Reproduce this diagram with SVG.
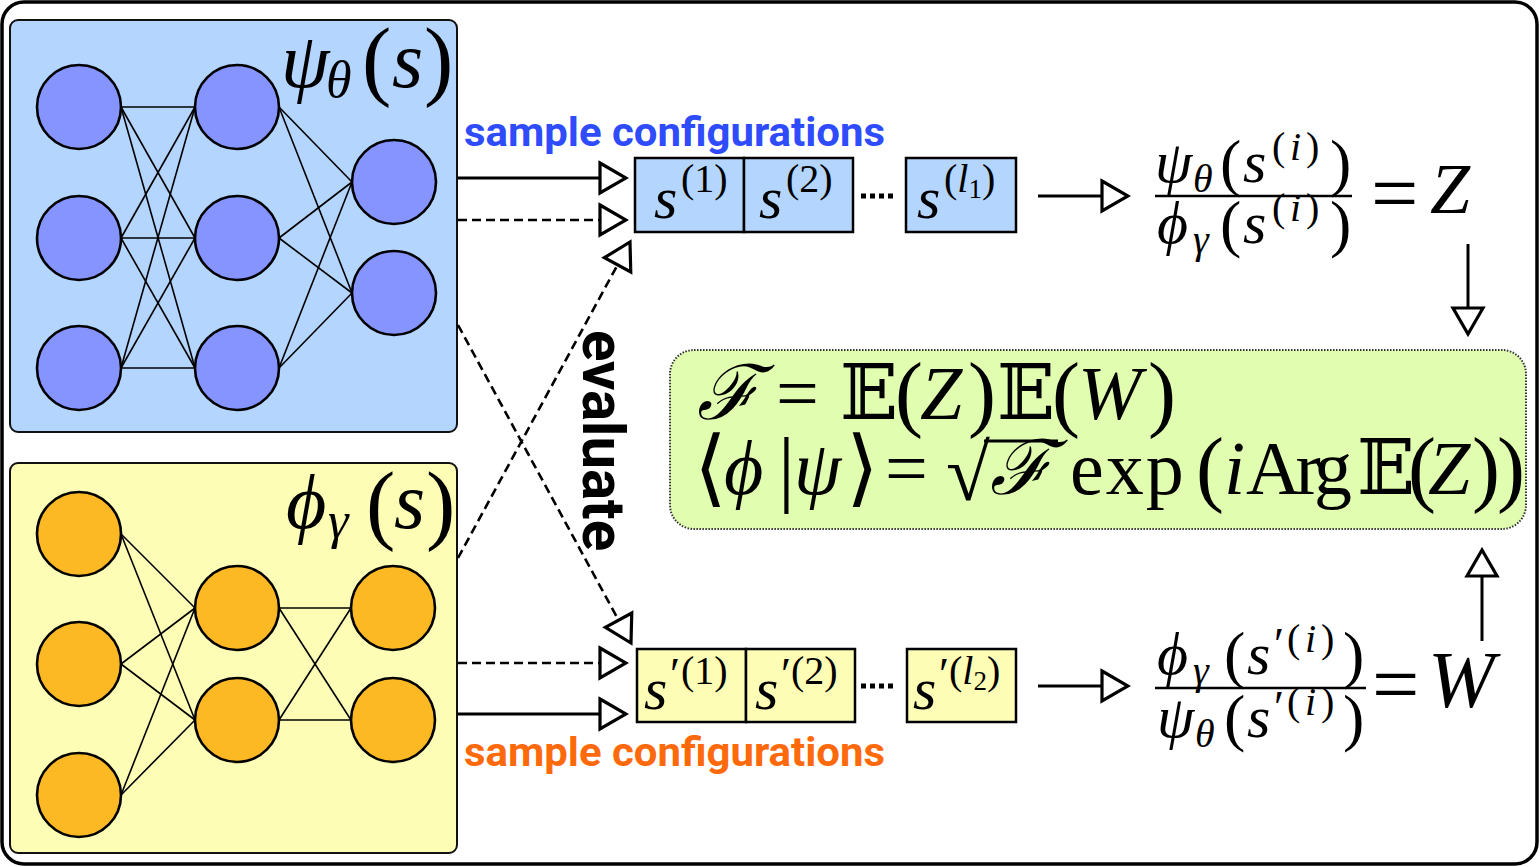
<svg xmlns="http://www.w3.org/2000/svg" width="1540" height="867" viewBox="0 0 1540 867">
<style>
.m{font-family:"Liberation Serif","DejaVu Serif",serif;fill:#000}
.it{font-style:italic}
.lbl{font-family:Roboto,"Liberation Sans",sans-serif;font-weight:bold}
.edge{stroke:#000;stroke-width:1.6;fill:none}
.bn{fill:#8594fe;stroke:#000;stroke-width:2.6}
.yn{fill:#fdb923;stroke:#000;stroke-width:2.6}
.sol{stroke:#000;stroke-width:3;fill:none;marker-end:url(#ah)}
.dsh{stroke:#000;stroke-width:2.6;fill:none;stroke-dasharray:9 5;marker-end:url(#ah)}
.bar{stroke:#000;stroke-width:2.5}
.dots{stroke:#000;stroke-width:5;stroke-dasharray:5 4}
</style>
<defs>
<marker id="ah" markerUnits="userSpaceOnUse" viewBox="-3 -3 32 36" markerWidth="32" markerHeight="36" refX="26" refY="15" orient="auto">
<path d="M0,0 L26,15 L0,30 Z" fill="#fff" stroke="#000" stroke-width="3.2" stroke-dasharray="none"/>
</marker>
</defs>
<rect x="2" y="2" width="1535" height="862" rx="22" fill="#fff" stroke="#000" stroke-width="3.5"/>

<g id="psi-net">
<rect x="10" y="20" width="447" height="412" rx="8" fill="#b3d5fe" stroke="#111" stroke-width="2"/>
<g class="edge">
<line x1="121" y1="107" x2="195" y2="107"/><line x1="121" y1="107" x2="195" y2="238"/><line x1="121" y1="107" x2="195" y2="368"/>
<line x1="121" y1="238" x2="195" y2="107"/><line x1="121" y1="238" x2="195" y2="238"/><line x1="121" y1="238" x2="195" y2="368"/>
<line x1="121" y1="368" x2="195" y2="107"/><line x1="121" y1="368" x2="195" y2="238"/><line x1="121" y1="368" x2="195" y2="368"/>
<line x1="279" y1="107" x2="352" y2="182"/><line x1="279" y1="107" x2="352" y2="293"/>
<line x1="279" y1="238" x2="352" y2="182"/><line x1="279" y1="238" x2="352" y2="293"/>
<line x1="279" y1="368" x2="352" y2="182"/><line x1="279" y1="368" x2="352" y2="293"/>
</g>
<circle class="bn" cx="79" cy="107" r="42"/><circle class="bn" cx="79" cy="238" r="42"/><circle class="bn" cx="79" cy="368" r="42"/>
<circle class="bn" cx="237" cy="107" r="42"/><circle class="bn" cx="237" cy="238" r="42"/><circle class="bn" cx="237" cy="368" r="42"/>
<circle class="bn" cx="394" cy="182" r="42"/><circle class="bn" cx="394" cy="293" r="42"/>
<text class="m"><tspan class="it" x="281" y="87" font-size="78">ψ</tspan><tspan class="it" x="326" y="97" font-size="52">θ</tspan><tspan x="362" y="89" font-size="88">(</tspan><tspan class="it" x="392" y="87" font-size="80">s</tspan><tspan x="424" y="89" font-size="88">)</tspan></text>
</g>

<g id="phi-net">
<rect x="10" y="463" width="447" height="390" rx="8" fill="#fdfdb6" stroke="#111" stroke-width="2"/>
<g class="edge">
<line x1="121" y1="534" x2="195" y2="608"/><line x1="121" y1="534" x2="195" y2="720"/>
<line x1="121" y1="664" x2="195" y2="608"/><line x1="121" y1="664" x2="195" y2="720"/>
<line x1="121" y1="795" x2="195" y2="608"/><line x1="121" y1="795" x2="195" y2="720"/>
<line x1="279" y1="608" x2="351" y2="608"/><line x1="279" y1="608" x2="351" y2="720"/>
<line x1="279" y1="720" x2="351" y2="608"/><line x1="279" y1="720" x2="351" y2="720"/>
</g>
<circle class="yn" cx="79" cy="534" r="42"/><circle class="yn" cx="79" cy="664" r="42"/><circle class="yn" cx="79" cy="795" r="42"/>
<circle class="yn" cx="237" cy="608" r="42"/><circle class="yn" cx="237" cy="720" r="42"/>
<circle class="yn" cx="393" cy="608" r="42"/><circle class="yn" cx="393" cy="720" r="42"/>
<text class="m"><tspan class="it" x="286" y="528" font-size="78">ϕ</tspan><tspan class="it" x="328" y="538" font-size="52">γ</tspan><tspan x="366" y="533" font-size="88">(</tspan><tspan class="it" x="394" y="528" font-size="80">s</tspan><tspan x="426" y="533" font-size="88">)</tspan></text>
</g>

<g id="labels">
<text class="lbl" x="464" y="146" font-size="40" fill="#2e4bfc" textLength="421" lengthAdjust="spacingAndGlyphs">sample configurations</text>
<text class="lbl" x="464" y="766" font-size="40" fill="#fe6a0b" textLength="421" lengthAdjust="spacingAndGlyphs">sample configurations</text>
<text class="lbl" transform="translate(583,330) rotate(90)" font-size="59" fill="#000" textLength="221" lengthAdjust="spacingAndGlyphs">evaluate</text>
</g>

<g id="samples-psi">
<rect x="635" y="158" width="109" height="74" fill="#b3d5fe" stroke="#000" stroke-width="2.5"/>
<rect x="744" y="158" width="109" height="74" fill="#b3d5fe" stroke="#000" stroke-width="2.5"/>
<rect x="906" y="158" width="110" height="74" fill="#b3d5fe" stroke="#000" stroke-width="2.5"/>
<line class="dots" x1="861" y1="196" x2="897" y2="196"/>
<text class="m"><tspan class="it" x="654" y="218" font-size="60">s</tspan><tspan x="681" y="192" font-size="40">(1)</tspan></text>
<text class="m"><tspan class="it" x="759" y="218" font-size="60">s</tspan><tspan x="786" y="192" font-size="40">(2)</tspan></text>
<text class="m"><tspan class="it" x="917" y="218" font-size="60">s</tspan><tspan x="944" y="192" font-size="40">(</tspan><tspan class="it" font-size="40">l</tspan><tspan font-size="27" dy="6">1</tspan><tspan font-size="40" dy="-6">)</tspan></text>
</g>

<g id="samples-phi">
<rect x="637" y="649" width="109" height="73" fill="#fdfdb6" stroke="#000" stroke-width="2.5"/>
<rect x="746" y="649" width="109" height="73" fill="#fdfdb6" stroke="#000" stroke-width="2.5"/>
<rect x="907" y="649" width="109" height="73" fill="#fdfdb6" stroke="#000" stroke-width="2.5"/>
<line class="dots" x1="861" y1="686" x2="897" y2="686"/>
<text class="m"><tspan class="it" x="644" y="709" font-size="60">s</tspan><tspan x="670" y="690" font-size="46">′</tspan><tspan x="681" y="684" font-size="40">(1)</tspan></text>
<text class="m"><tspan class="it" x="755" y="709" font-size="60">s</tspan><tspan x="781" y="690" font-size="46">′</tspan><tspan x="791" y="684" font-size="40">(2)</tspan></text>
<text class="m"><tspan class="it" x="913" y="709" font-size="60">s</tspan><tspan x="939" y="690" font-size="46">′</tspan><tspan x="949" y="684" font-size="40">(</tspan><tspan class="it" font-size="40">l</tspan><tspan font-size="27" dy="6">2</tspan><tspan font-size="40" dy="-6">)</tspan></text>
</g>

<g id="ratio-Z">
<text class="m"><tspan class="it" x="1155" y="182" font-size="60">ψ</tspan><tspan class="it" x="1193" y="192" font-size="40">θ</tspan><tspan x="1220" y="184" font-size="64">(</tspan><tspan class="it" x="1243" y="182" font-size="60">s</tspan><tspan x="1272" y="160" font-size="40">(</tspan><tspan class="it" x="1290" y="160" font-size="40">i</tspan><tspan x="1306" y="160" font-size="40">)</tspan><tspan x="1330" y="184" font-size="64">)</tspan></text>
<line class="bar" x1="1155" y1="196" x2="1352" y2="196"/>
<text class="m"><tspan class="it" x="1157" y="243" font-size="60">ϕ</tspan><tspan class="it" x="1193" y="253" font-size="40">γ</tspan><tspan x="1220" y="245" font-size="64">(</tspan><tspan class="it" x="1243" y="243" font-size="60">s</tspan><tspan x="1272" y="221" font-size="40">(</tspan><tspan class="it" x="1290" y="221" font-size="40">i</tspan><tspan x="1306" y="221" font-size="40">)</tspan><tspan x="1330" y="245" font-size="64">)</tspan></text>
<text class="m" x="1371" y="222" font-size="84">=</text>
<text class="m it" x="1430" y="213" font-size="72">Z</text>
</g>

<g id="ratio-W">
<text class="m"><tspan class="it" x="1157" y="674" font-size="60">ϕ</tspan><tspan class="it" x="1193" y="684" font-size="40">γ</tspan><tspan x="1224" y="676" font-size="64">(</tspan><tspan class="it" x="1247" y="674" font-size="60">s</tspan><tspan x="1274" y="660" font-size="46">′</tspan><tspan x="1287" y="652" font-size="40">(</tspan><tspan class="it" x="1305" y="652" font-size="40">i</tspan><tspan x="1321" y="652" font-size="40">)</tspan><tspan x="1343" y="676" font-size="64">)</tspan></text>
<line class="bar" x1="1155" y1="688" x2="1366" y2="688"/>
<text class="m"><tspan class="it" x="1157" y="737" font-size="60">ψ</tspan><tspan class="it" x="1195" y="747" font-size="40">θ</tspan><tspan x="1224" y="739" font-size="64">(</tspan><tspan class="it" x="1247" y="737" font-size="60">s</tspan><tspan x="1274" y="723" font-size="46">′</tspan><tspan x="1287" y="715" font-size="40">(</tspan><tspan class="it" x="1305" y="715" font-size="40">i</tspan><tspan x="1321" y="715" font-size="40">)</tspan><tspan x="1343" y="739" font-size="64">)</tspan></text>
<text class="m" x="1372" y="713" font-size="84">=</text>
<text class="m it" x="1428" y="707" font-size="80">W</text>
</g>

<g id="fidelity">
<rect x="670" y="350" width="856" height="179" rx="24" fill="#e0fdb0" stroke="#333" stroke-width="2" stroke-dasharray="1.5 1.5"/>
<text class="m" font-size="76"><tspan class="it" x="697" y="419">ℱ</tspan><tspan x="776" y="419">=</tspan><tspan x="840" y="419">𝔼</tspan><tspan x="895" y="421" font-size="84">(</tspan><tspan class="it" x="920" y="419">Z</tspan><tspan x="968" y="421" font-size="84">)</tspan><tspan x="997" y="419">𝔼</tspan><tspan x="1052" y="421" font-size="84">(</tspan><tspan class="it" x="1078" y="419">W</tspan><tspan x="1148" y="421" font-size="84">)</tspan></text>
<text class="m" font-size="76"><tspan x="694" y="496" font-size="84">⟨</tspan><tspan class="it" x="724" y="494">ϕ</tspan><tspan x="778" y="496" font-size="84">|</tspan><tspan class="it" x="794" y="494">ψ</tspan><tspan x="846" y="496" font-size="84">⟩</tspan><tspan x="885" y="494">=</tspan><tspan x="946" y="500" font-size="80">√</tspan><tspan class="it" x="990" y="494">ℱ</tspan><tspan x="1070" y="494" letter-spacing="2">exp</tspan><tspan x="1196" y="496" font-size="84">(</tspan><tspan class="it" x="1224" y="494">i</tspan><tspan x="1246" y="494" textLength="106" lengthAdjust="spacing">Arg</tspan><tspan x="1357" y="494">𝔼</tspan><tspan x="1408" y="496" font-size="84">(</tspan><tspan class="it" x="1428" y="494">Z</tspan><tspan x="1472" y="496" font-size="84">)</tspan><tspan x="1497" y="496" font-size="84">)</tspan></text>
<line x1="984" y1="441" x2="1058" y2="441" stroke="#000" stroke-width="3"/>
</g>

<g id="connectors">
<line class="sol" x1="458" y1="178" x2="626" y2="178"/>
<line class="dsh" x1="458" y1="220" x2="626" y2="220"/>
<line class="dsh" x1="458" y1="558" x2="630" y2="242"/>
<line class="dsh" x1="458" y1="325" x2="631" y2="643"/>
<line class="dsh" x1="458" y1="663" x2="626" y2="663"/>
<line class="sol" x1="458" y1="714" x2="626" y2="714"/>
<line class="sol" x1="1038" y1="196" x2="1128" y2="196"/>
<line class="sol" x1="1038" y1="686" x2="1128" y2="686"/>
<line class="sol" x1="1468" y1="244" x2="1468" y2="334"/>
<line class="sol" x1="1482" y1="641" x2="1482" y2="550"/>
</g>
</svg>
